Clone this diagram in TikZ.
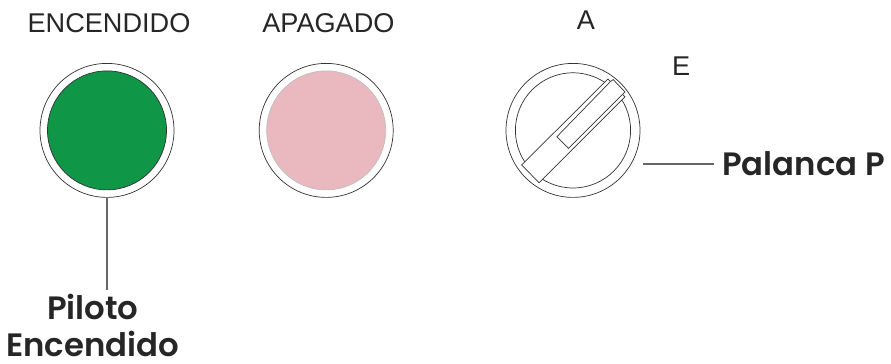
\documentclass[tikz,border=0pt]{standalone}
\usepackage{fontspec}
\setmainfont{Liberation Sans}
\newfontfamily\calloutfont{Poppins SemiBold}
\definecolor{pilotgreen}{HTML}{0F9647}
\definecolor{offpink}{HTML}{EAB8BF}
\tikzset{
  ring/.style={circle,draw=black!80,line width=0.5pt,fill=white,inner sep=0pt},
  toplabel/.style={font=\fontsize{19.3}{22}\selectfont,text=black!85,inner sep=0pt},
  callout/.style={font=\calloutfont\fontsize{23}{26.6}\selectfont,text=black!85,inner sep=0pt,align=center},
  leader/.style={draw=black!60,line width=1.4pt},
  lever/.style={draw=black!80,line width=0.5pt,fill=white}
}
\begin{document}
\begin{tikzpicture}
  \useasboundingbox (0,0) rectangle (22.275,9.1);
  % piloto
  \node[ring,minimum size=3.35cm] (verdeout) at (2.675,5.84) {};
  \node[ring,fill=pilotgreen,minimum size=2.975cm] (verde) at (2.675,5.84) {};
  \node[toplabel] (encendido) at (2.725,8.525) {ENCENDIDO};
  % apagado
  \node[ring,minimum size=3.35cm] (rosaout) at (8.155,5.84) {};
  \node[ring,draw=black!25,fill=offpink,minimum size=2.975cm] (rosa) at (8.155,5.84) {};
  \node[toplabel] (apagado) at (8.21,8.525) {APAGADO};
  % selector
  \node[ring,minimum size=3.35cm] (selout) at (14.325,5.84) {};
  \node[ring,minimum size=2.88cm] (sel) at (14.325,5.84) {};
  \node[toplabel] (a) at (14.65,8.6) {A};
  \node[toplabel] (e) at (17.03,7.45) {E};
  \draw[lever] (13.04,4.975) -- (15.2,7.125) -- (15.26,7.06) -- (15.33,7.11) -- (15.625,6.8)
    -- (15.56,6.74) -- (15.625,6.68) -- (13.48,4.53) -- cycle;
  \draw[lever] (15.26,7.06) -- (13.92,5.68) -- (14.21,5.39) -- (15.56,6.74);
  % textos
  \node[callout,anchor=west] (palanca) at (18.05,5) {Palanca P};
  \node[callout] (piloto) at (2.32,0.96) {Piloto\\Encendido};
  \draw[leader,shorten <=2pt,shorten >=6pt] (selout.east |- palanca.west) -- (palanca.west);
  \draw[leader,shorten >=3pt] (verdeout.south) -- (verdeout.south |- piloto.north);
\end{tikzpicture}
\end{document}
